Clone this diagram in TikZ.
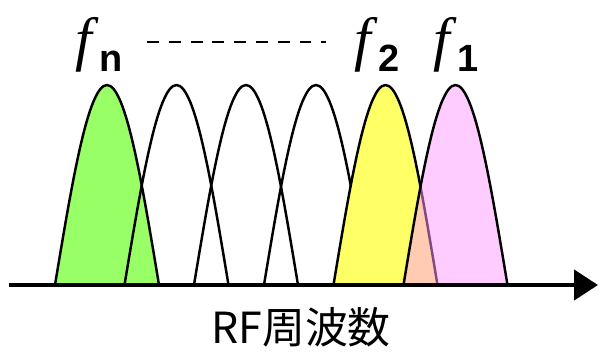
\documentclass[tikz,border=0pt]{standalone}
\usepackage{fontspec}
\setmainfont{Liberation Serif}
\setsansfont{Liberation Sans}[BoldFont={Liberation Sans Bold}]
\newfontfamily\fserif{Liberation Serif}[ItalicFont={Liberation Serif Italic},AutoFakeBold=0.8]
\newfontfamily\jpfont{Noto Sans CJK JP}
\usetikzlibrary{arrows.meta}
\definecolor{GreenClr}{HTML}{99FF66}
\definecolor{YellowClr}{HTML}{FFFF66}
\definecolor{PinkClr}{HTML}{FF99FF}

\newcommand{\freqlabel}[1]{{\fserif\itshape\fontsize{17}{18}\selectfont f}\kern2pt\raisebox{-3.6pt}{\fontsize{10.8}{11}\selectfont\sffamily\bfseries #1}}

\begin{document}
\begin{tikzpicture}[
  bell/.style={line width=0.7pt,draw=black,line join=round},
  axisline/.style={line width=1.3pt,-{Triangle[length=6.8pt,width=8.5pt]}},
  dots/.style={line width=0.75pt,dash pattern=on 3.4pt off 2.8pt},
  flabel/.style={anchor=base west,inner sep=0pt}]
\useasboundingbox (0,0) rectangle (5.99,3.51);

\coordinate (axisL) at (0.09,0.66);
\coordinate (axisR) at (5.98,0.66);
\coordinate (dashL) at (1.47,3.09);
\coordinate (dashR) at (3.26,3.09);

% bells: half width .52, height 2
\filldraw[bell,fill=GreenClr] (0.55,0.66) sin ++(0.52,2) cos ++(0.52,-2);
\foreach \c in {1.765,2.46,3.16}
  \draw[bell] ({\c-0.52},0.66) sin ++(0.52,2) cos ++(0.52,-2);
\filldraw[bell,fill=YellowClr] (3.335,0.66) sin ++(0.52,2) cos ++(0.52,-2);
\filldraw[bell,fill=PinkClr,fill opacity=0.5] (4.035,0.66) sin ++(0.52,2) cos ++(0.52,-2);

\draw[axisline] (axisL) -- (axisR);

% labels
\node[flabel] (fn) at (0.75,2.92) {\freqlabel{n}};
\node[flabel] (ftwo) at (3.54,2.92) {\freqlabel{2}};
\node[flabel] (fone) at (4.33,2.92) {\freqlabel{1}};
\draw[dots] (dashL) -- (dashR);

\node[font=\jpfont\fontsize{12.2}{14}\selectfont,anchor=base,inner sep=0pt] (rf) at (3.01,0.08) {RF周波数};

\end{tikzpicture}
\end{document}
